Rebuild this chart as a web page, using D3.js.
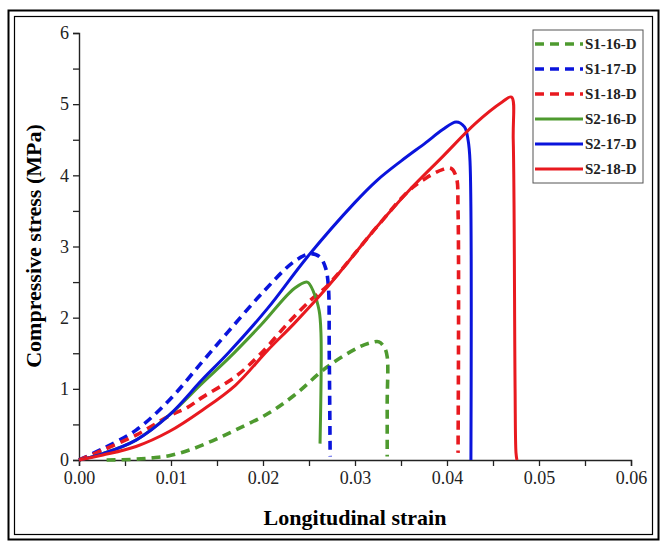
<!DOCTYPE html>
<html>
<head>
<meta charset="utf-8">
<script src="https://cdn.jsdelivr.net/npm/d3@7"></script>
<style>
  body { margin: 0; background: #fff; }
  svg text { font-family: "Liberation Serif", "Times New Roman", serif; }
</style>
</head>
<body>
<div id="chart"></div>
<script>
// series names, colours and dash style
var seriesNames = ["S1-16-D", "S1-17-D", "S1-18-D", "S2-16-D", "S2-17-D", "S2-18-D"];
var seriesColors = ["#4e9a2f", "#0a14dc", "#e8191f", "#4e9a2f", "#0a14dc", "#e8191f"];
var seriesDashed = [true, true, true, false, false, false];

// [strain, stress (MPa)]
var s1_16 = [[0.003,0],[0.006,0.01],[0.008,0.03],[0.0098,0.06],[0.012,0.14],[0.0145,0.27],[0.017,0.42],
  [0.0205,0.65],[0.0234,0.91],[0.027,1.31],[0.0305,1.59],[0.0318,1.65],[0.0326,1.66],[0.0332,1.58],
  [0.0335,1.45],[0.0335,0.8],[0.0335,0.05]];
var s1_17 = [[0,0],[0.0026,0.16],[0.0062,0.42],[0.0098,0.84],[0.0134,1.38],[0.0162,1.8],[0.0198,2.33],
  [0.0234,2.79],[0.0252,2.9],[0.0262,2.85],[0.0268,2.7],[0.0271,2.45],[0.0272,1.5],[0.0273,0.05]];
var s1_18 = [[0,0],[0.0026,0.14],[0.0062,0.35],[0.0098,0.62],[0.0118,0.74],[0.0134,0.88],[0.017,1.17],
  [0.0198,1.5],[0.0227,1.92],[0.0252,2.25],[0.027,2.45],[0.0324,3.28],[0.0359,3.79],[0.0377,3.96],
  [0.0395,4.08],[0.0404,4.1],[0.041,3.98],[0.0412,3.5],[0.0412,0.1]];
var s2_16 = [[0,0],[0.0026,0.09],[0.0062,0.28],[0.0098,0.63],[0.0134,1.08],[0.0162,1.42],[0.0198,1.9],
  [0.0234,2.41],[0.0248,2.5],[0.0255,2.36],[0.0261,2.1],[0.0263,1.78],[0.0262,0.23]];
var s2_17 = [[0,0],[0.0026,0.09],[0.0062,0.28],[0.0098,0.63],[0.0134,1.13],[0.0162,1.5],[0.0205,2.13],
  [0.0248,2.85],[0.03,3.62],[0.0324,3.93],[0.035,4.2],[0.0377,4.46],[0.0395,4.64],[0.041,4.75],
  [0.0419,4.68],[0.0423,4.49],[0.0425,4.2],[0.0426,0]];
var s2_18 = [[0,0],[0.0026,0.07],[0.0062,0.19],[0.0098,0.4],[0.0134,0.7],[0.017,1.05],[0.0205,1.54],
  [0.0234,1.92],[0.027,2.43],[0.0324,3.28],[0.0359,3.79],[0.0395,4.26],[0.0431,4.73],[0.046,5.03],
  [0.047,5.1],[0.0472,4.5],[0.0474,1.0],[0.0475,0.1],[0.0476,0]];
var seriesData = [s1_16, s1_17, s1_18, s2_16, s2_17, s2_18];

var xTicks = [0, 0.01, 0.02, 0.03, 0.04, 0.05, 0.06];
var yTicks = [0, 1, 2, 3, 4, 5, 6];

var W = 661, H = 541;
var svg = d3.select("#chart").append("svg")
    .attr("width", W)
    .attr("height", H);

// double frame round the figure
svg.append("rect").attr("x", 8.5).attr("y", 10.5).attr("width", 650).attr("height", 529)
    .attr("fill", "none").attr("stroke", "#000").attr("stroke-width", 2);
svg.append("rect").attr("x", 14.5).attr("y", 16.5).attr("width", 638).attr("height", 518)
    .attr("fill", "none").attr("stroke", "#000").attr("stroke-width", 1.2);

var x = d3.scaleLinear().domain([0, 0.06]).range([79, 631]),
    y = d3.scaleLinear().domain([0, 6]).range([460, 33]);

var g = svg.append("g");

g.append("g")
    .attr("transform", "translate(0," + y(0) + ")")
    .call(d3.axisBottom(x).tickValues(xTicks).tickFormat(d3.format(".2f")).tickSize(6).tickPadding(5));
g.append("g")
    .attr("transform", "translate(0," + y(0) + ")")
    .call(d3.axisBottom(x).tickValues(d3.range(0.005, 0.06, 0.01)).tickFormat("").tickSize(6))
    .select(".domain").remove();

g.append("g")
    .attr("transform", "translate(" + x(0) + ",0)")
    .call(d3.axisLeft(y).tickValues(yTicks).tickFormat(d3.format("d")).tickSize(6).tickPadding(4));
g.append("g")
    .attr("transform", "translate(" + x(0) + ",0)")
    .call(d3.axisLeft(y).tickValues(d3.range(0.5, 6, 1)).tickFormat("").tickSize(6))
    .select(".domain").remove();

g.selectAll(".domain").attr("stroke", "#222").attr("stroke-width", 1.4);
g.selectAll(".tick line").attr("stroke", "#222").attr("stroke-width", 1.3);
g.selectAll(".tick text")
    .attr("font-family", "Liberation Serif, serif")
    .attr("font-size", 18)
    .attr("fill", "#222");

// curves
var line = d3.line()
    .x(function(d) { return x(d[0]); })
    .y(function(d) { return y(d[1]); })
    .curve(d3.curveCatmullRom.alpha(0.5));

seriesData.forEach(function(data, i) {
  g.append("path")
      .datum(data)
      .attr("fill", "none")
      .attr("stroke", seriesColors[i])
      .attr("stroke-width", seriesDashed[i] ? 3.6 : 3)
      .attr("stroke-dasharray", seriesDashed[i] ? "9,6" : null)
      .attr("stroke-linejoin", "round")
      .attr("d", line);
});

// axis titles
svg.append("text")
    .attr("x", 355).attr("y", 525)
    .attr("text-anchor", "middle")
    .attr("font-size", 22).attr("font-weight", "bold")
    .text("Longitudinal strain");
svg.append("text")
    .attr("transform", "translate(41," + 246 + ") rotate(-90)")
    .attr("text-anchor", "middle")
    .attr("font-size", 22).attr("font-weight", "bold")
    .text("Compressive stress (MPa)");

// legend
var legend = svg.append("g").attr("transform", "translate(533,30)");
legend.append("rect")
    .attr("width", 110).attr("height", 153)
    .attr("fill", "#fff").attr("stroke", "#555").attr("stroke-width", 1);
seriesNames.forEach(function(name, i) {
  var ly = 14 + i * 25;
  legend.append("line")
      .attr("x1", 2).attr("x2", 50).attr("y1", ly).attr("y2", ly)
      .attr("stroke", seriesColors[i])
      .attr("stroke-width", seriesDashed[i] ? 3.6 : 3)
      .attr("stroke-dasharray", seriesDashed[i] ? "9,6" : null);
  legend.append("text")
      .attr("x", 52).attr("y", ly + 5)
      .attr("font-size", 15).attr("font-weight", "bold")
      .attr("fill", "#222")
      .text(name);
});
</script>
</body>
</html>
